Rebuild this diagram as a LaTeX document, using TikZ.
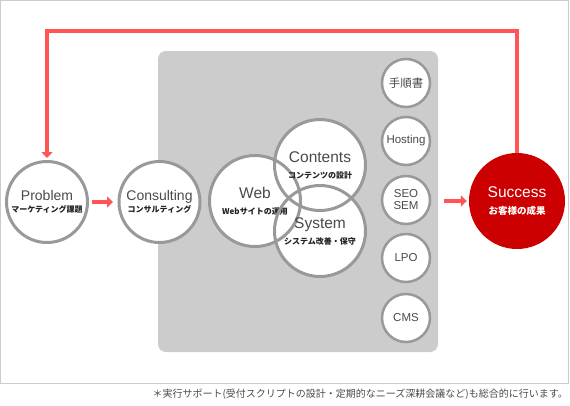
\documentclass[tikz,border=0pt]{standalone}
\usepackage{fontspec}
\setmainfont{Liberation Sans}
\newfontfamily\jp{Noto Sans CJK JP}
\usetikzlibrary{arrows.meta,positioning}
\definecolor{ringgray}{HTML}{999999}
\definecolor{panelgray}{HTML}{CCCCCC}
\definecolor{arrowred}{HTML}{FF5555}
\definecolor{succred}{HTML}{CC0000}
\definecolor{labelgray}{HTML}{4A4A4A}
\definecolor{subgray}{HTML}{222222}
\newcommand{\jsub}[1]{{\jp\bfseries\fontsize{8}{10}\selectfont\color{subgray}#1}}

\begin{document}
\begin{tikzpicture}[x=1pt, y=-1pt,
  ring/.style={circle, draw=ringgray, line width=3pt, fill=white, minimum size=#1, inner sep=0pt, outer sep=0pt,
    align=center, text=labelgray, font=\fontsize{14}{12.5}\selectfont},
  venn/.style={circle, draw=ringgray, line width=3pt, minimum size=91pt, inner sep=0pt, outer sep=0pt,
    align=center, text=labelgray, font=\fontsize{15.5}{16}\selectfont},
  chip/.style={circle, draw=ringgray, line width=2.5pt, fill=white, minimum size=48pt, inner sep=0pt,
    align=center, text=labelgray, font=\fontsize{11.5}{12}\selectfont},
  arr/.style={-{Triangle[length=6pt, width=11pt]}, line width=4pt, arrowred}
]
  \useasboundingbox (0,0) rectangle (570,405);
  \draw[panelgray, line width=1pt] (0.5,0.5) rectangle (568.5,383.5);

  \node[rectangle, fill=panelgray, rounded corners=8pt, minimum width=280pt, minimum height=301pt] (panel) at (298,201.5) {};

  \node[ring=81pt] (prob) at (47,202) {Problem\\\jsub{マーケティング課題}};
  \node[ring=81pt] (cons) at (159.5,202) {Consulting\\\jsub{コンサルティング}};

  % venn: fills first, outlines and text on top
  \coordinate (webc) at (255,201);
  \coordinate (contc) at (320,165);
  \coordinate (sysc) at (320,231);
  \foreach \c in {webc,contc,sysc}
    \fill[white] (\c) circle[radius=45.5pt];
  \node[venn] (web) at (webc) {Web\\\jsub{Webサイトの運用}};
  \node[venn] (cont) at (contc) {Contents\\\jsub{コンテンツの設計}};
  \node[venn] (sys) at (sysc) {System\\\jsub{システム改善・保守}};

  \foreach \name/\y/\txt in {manual/83/{\jp 手順書}, host/141/Hosting, seo/200/{SEO\\SEM}, lpo/258/LPO, cms/318/CMS}
    \node[chip] (\name) at (406,\y) {\txt};

  \node[circle, fill=succred, minimum size=96pt, inner sep=0pt, align=center, text=white,
    font=\fontsize{15.5}{17}\selectfont] (succ) at (517,201)
    {Success\\{\jp\bfseries\fontsize{9.5}{10}\selectfont お客様の成果}};

  \coordinate (loop) at (282,30.5);
  \draw[arr, shorten >=3.5pt] (succ.north) |- (loop) -| (prob.north);
  \draw[arr, shorten <=4.5pt, shorten >=6pt] (prob) -- (cons);
  \draw[arr, shorten <=6pt, shorten >=2pt] (panel.east |- succ) -- (succ);

  \node[anchor=east, inner sep=0pt, text=labelgray, font=\jp\fontsize{10}{11}\selectfont] (note) at (568,394)
    {＊実行サポート(受付スクリプトの設計・定期的なニーズ深耕会議など)も総合的に行います。};
\end{tikzpicture}
\end{document}
